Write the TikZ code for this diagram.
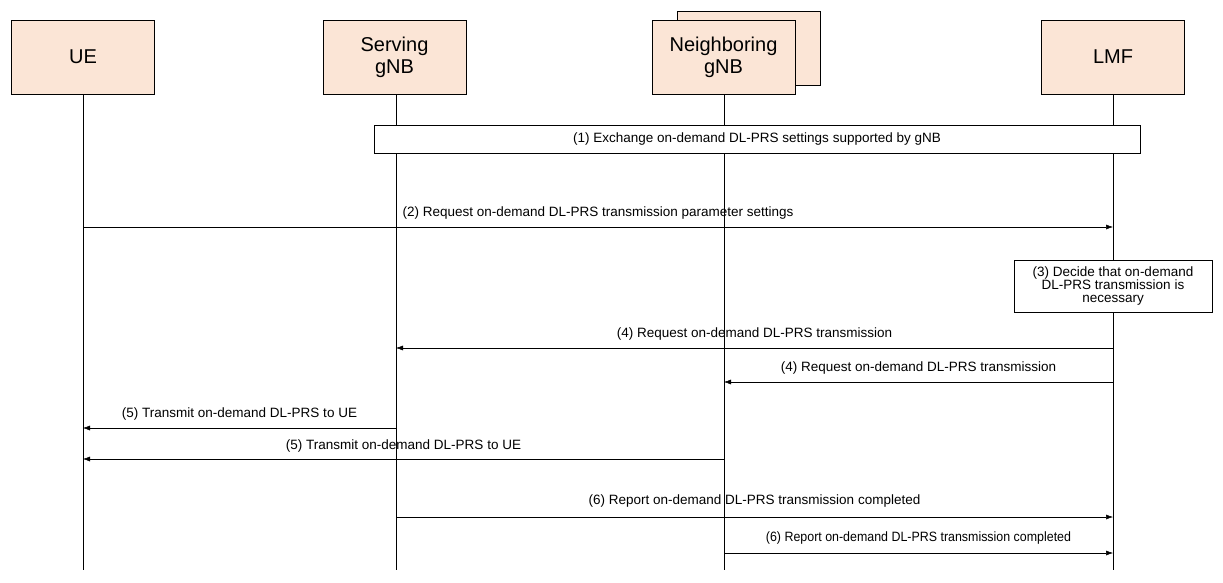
\documentclass[tikz,border=0pt]{standalone}
\usepackage{fontspec}
\setmainfont{Liberation Sans}
\usetikzlibrary{arrows.meta}
\definecolor{peach}{HTML}{FBE5D6}
\tikzset{
  entity/.style={draw=black, fill=peach, minimum width=143pt, minimum height=74pt, align=center, font=\fontsize{20}{22}\selectfont, inner sep=0pt},
  lifeline/.style={draw=black, line width=.5pt},
  msg/.style={draw=black, line width=.5pt, -{Latex[length=7pt,width=5pt]}},
  lbl/.style={font=\fontsize{13.5}{14}\selectfont, inner sep=0pt},
  note/.style={draw=black, fill=white, line width=.5pt, align=center, inner sep=1pt, font=\fontsize{13.5}{13}\selectfont}
}
\begin{document}
\begin{tikzpicture}[x=1pt,y=-1pt]
    \useasboundingbox (0,0) rectangle (1223,582);

    %lifelines
    \foreach \n/\x in {ue/83, sg/396, ng/724, lmf/1113}{
        \coordinate (\n top) at (\x,94);
        \coordinate (\n bot) at (\x,570);
        \draw[lifeline] (\n top) -- (\n bot);
    }

    %entities
    \node[entity] (ue) at (83,57) {UE};
    \node[entity] (sg) at (394.5,57.5) {Serving\\gNB};
    \node[entity] (ngback) at (749,48.5) {};
    \node[entity] (ng) at (723.5,57) {Neighboring\\gNB};
    \node[entity] (lmf) at (1113,57) {LMF};

    %(1)
    \node[note, minimum width=766pt, minimum height=28pt] (exch) at (757,139) {(1) Exchange on-demand DL-PRS settings supported by gNB};

    %(2)
    \coordinate (ue2) at (83,227); \coordinate (lmf2) at (1113,227);
    \draw[msg] (ue2) -- (lmf2) node[lbl, midway, above=7pt] {(2) Request on-demand DL-PRS transmission parameter settings};

    %(3)
    \node[note, minimum width=198pt, minimum height=52pt] (dec) at (1113,286) {(3) Decide that on-demand\\DL-PRS transmission is\\necessary};

    %(4)
    \coordinate (lmf4a) at (1113,348); \coordinate (sg4) at (396,348);
    \draw[msg] (lmf4a) -- (sg4) node[lbl, midway, above=7pt] {(4) Request on-demand DL-PRS transmission};
    \coordinate (lmf4b) at (1113,382); \coordinate (ng4) at (724,382);
    \draw[msg] (lmf4b) -- (ng4) node[lbl, midway, above=7pt] {(4) Request on-demand DL-PRS transmission};

    %(5)
    \coordinate (sg5) at (396,428); \coordinate (ue5a) at (83,428);
    \draw[msg] (sg5) -- (ue5a) node[lbl, midway, above=7pt] {(5) Transmit on-demand DL-PRS to UE};
    \coordinate (ng5) at (724,459); \coordinate (ue5b) at (83,459);
    \draw[msg] (ng5) -- (ue5b) node[lbl, midway, above=6pt] {(5) Transmit on-demand DL-PRS to UE};

    %(6)
    \coordinate (sg6) at (396,517); \coordinate (lmf6a) at (1113,517);
    \draw[msg] (sg6) -- (lmf6a) node[lbl, midway, above=9pt] {(6) Report on-demand DL-PRS transmission completed};
    \coordinate (ng6) at (724,553); \coordinate (lmf6b) at (1113,553);
    \draw[msg] (ng6) -- (lmf6b) node[lbl, midway, above=8pt, xscale=.92] {(6) Report on-demand DL-PRS transmission completed};
\end{tikzpicture}
\end{document}
